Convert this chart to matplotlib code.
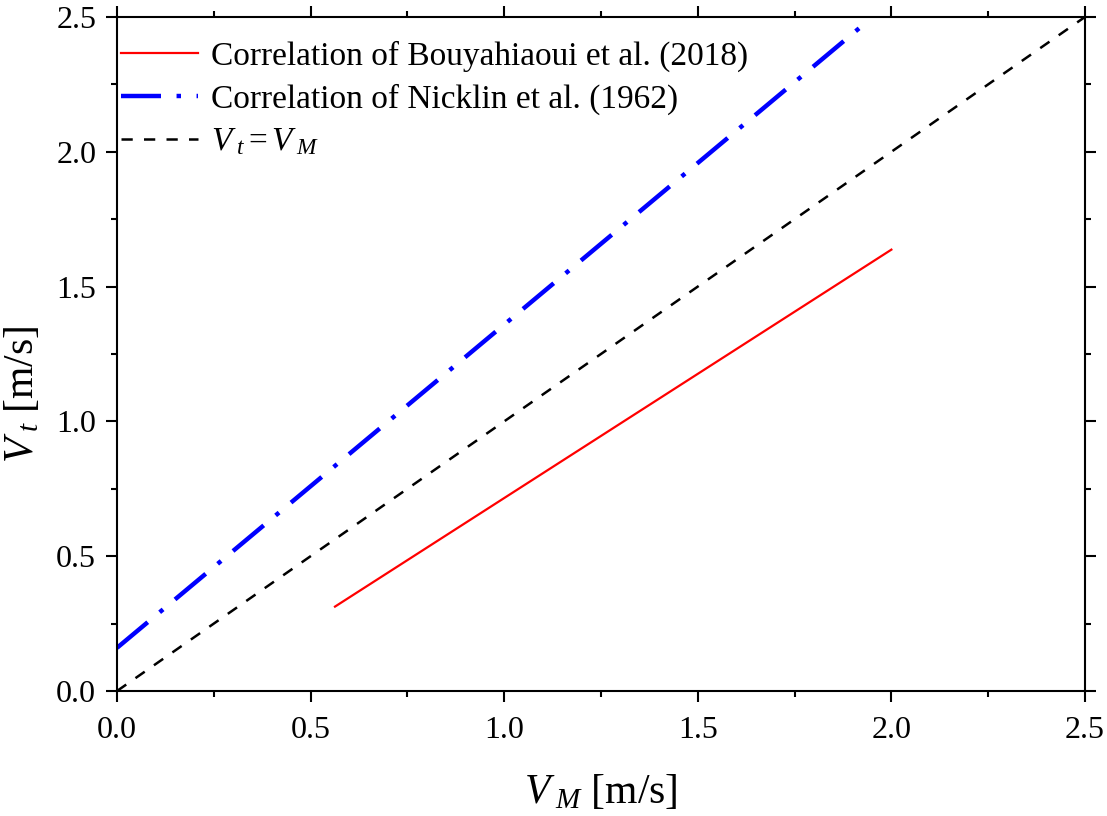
import matplotlib
matplotlib.use("Agg")
import matplotlib.pyplot as plt

# line end points
bouy_x = [0.563, 2.0]
bouy_y = [0.313, 1.637]
nick_x = [0.0, 1.935]
nick_y = [0.16, 2.48]
ref_x = [0.0, 2.5]
ref_y = [0.0, 2.5]
ticks = [0.0, 0.5, 1.0, 1.5, 2.0, 2.5]
tick_labels = ["0.0", "0.5", "1.0", "1.5", "2.0", "2.5"]

plt.rcParams['font.family'] = ['Liberation Serif', 'DejaVu Serif']
plt.rcParams['mathtext.fontset'] = 'custom'
plt.rcParams['mathtext.rm'] = 'Liberation Serif'
plt.rcParams['mathtext.it'] = 'Liberation Serif:italic'

fig = plt.figure(figsize=(11.07, 8.16), dpi=100)
ax = fig.add_axes([0.1057, 0.1532, 0.8744, 0.826])

ax.plot(bouy_x, bouy_y, color='red', lw=1.6, label='Correlation of Bouyahiaoui et al. (2018)')
ax.plot(nick_x, nick_y, color='blue', lw=3.2, dashes=(9, 3.5, 1, 3.5),
        label='Correlation of Nicklin et al. (1962)')
ax.plot(ref_x, ref_y, color='black', lw=1.8, dashes=(4.5, 4.5), label=r'$V_{\;t} = V_{\;M}$')

ax.set_xlim(0, 2.5)
ax.set_ylim(0, 2.5)
ax.set_xticks(ticks)
ax.set_xticklabels(tick_labels)
ax.set_yticks(ticks)
ax.set_yticklabels(tick_labels)
ax.set_xticks([0.25, 0.75, 1.25, 1.75, 2.25], minor=True)
ax.set_yticks([0.25, 0.75, 1.25, 1.75, 2.25], minor=True)
ax.tick_params(which='both', direction='out', top=True, right=True, width=1.5, labelsize=23)
ax.tick_params(which='major', length=8, pad=7)
ax.tick_params(axis='x', which='major', pad=10)
ax.tick_params(which='minor', length=4)
for s in ax.spines.values():
    s.set_linewidth(1.5)

ax.set_xlabel(r'$V_{\;M}$ [m/s]', fontsize=30, labelpad=20)
ax.set_ylabel(r'$V_{\;t}$ [m/s]', fontsize=30)
ax.yaxis.set_label_coords(-0.078, 0.44)

ax.legend(loc='upper left', bbox_to_anchor=(0.004, 0.965), frameon=False, fontsize=24,
          handlelength=2.3, borderaxespad=0, borderpad=0, labelspacing=0.35,
          handletextpad=0.4)

fig.savefig('out.png', dpi=100)
